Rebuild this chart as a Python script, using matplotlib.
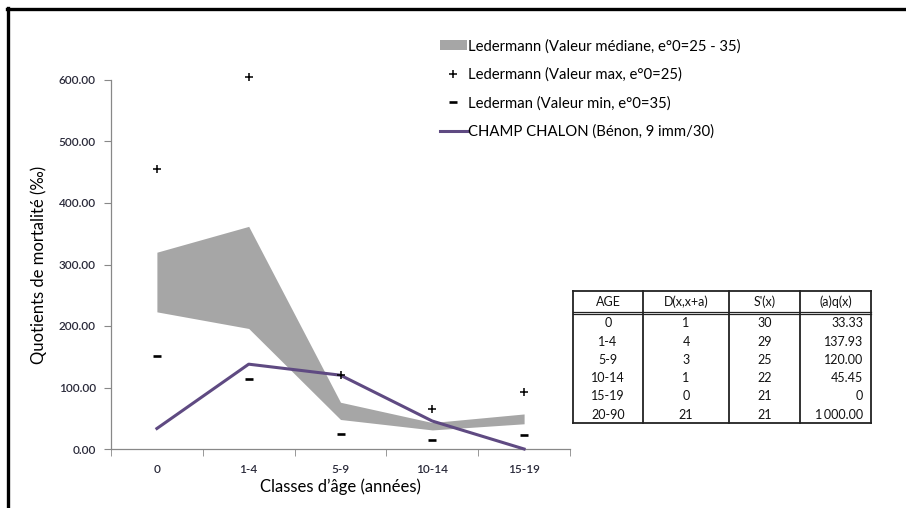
import matplotlib
matplotlib.use("Agg")
import matplotlib.pyplot as plt
from matplotlib.lines import Line2D
from matplotlib.patches import Patch
import numpy as np

plt.rcParams['font.family'] = ['Lato', 'DejaVu Sans']

# ---- data ----
categories = ["0", "1-4", "5-9", "10-14", "15-19"]
median_low = [223, 196, 48, 31, 41]
median_high = [320, 362, 76, 43, 57]
max_vals = [456, 605, 121, 65, 92]
min_vals = [152, 114, 25, 15, 23]
champ_chalon = [33.33, 137.93, 120.00, 45.45, 0]

table_header = ["AGE", "D(x,x+a)", "S'(x)", "(a)q(x)"]
table_age = ["0", "1-4", "5-9", "10-14", "15-19", "20-90"]
table_D = ["1", "4", "3", "1", "0", "21"]
table_S = ["30", "29", "25", "22", "21", "21"]
table_q = ["33.33", "137.93", "120.00", "45.45", "0", "1\u2009000.00"]

legend_labels = ["Ledermann (Valeur médiane, e°0=25 - 35)",
                 "Ledermann (Valeur max, e°0=25)",
                 "Lederman (Valeur min, e°0=35)",
                 "CHAMP CHALON (Bénon, 9 imm/30)"]

W, H = 906, 508
fig = plt.figure(figsize=(W / 100, H / 100), dpi=100)

def fx(px):
    return px / W

def fy(py):
    return 1 - py / H

ax = fig.add_axes([fx(111), fy(449), fx(570) - fx(111), fy(80) - fy(449)])
x = np.arange(len(categories))

band_color = "#A6A6A6"
line_color = "#5F4A82"
tick_color = "#2a2a3a"

ax.fill_between(x, median_low, median_high, color=band_color, linewidth=0, zorder=1)
ax.plot(x, champ_chalon, color=line_color, linewidth=2.2, zorder=3, clip_on=False)
ax.plot(x, max_vals, linestyle="none", marker="+", markersize=5.5, markeredgewidth=1.1,
        color="black", zorder=4, clip_on=False)
ax.plot(x, min_vals, linestyle="none", marker="_", markersize=6, markeredgewidth=1.9,
        color="black", zorder=4, clip_on=False)

ax.set_xlim(-0.5, len(categories) - 0.5)
ax.set_ylim(0, 600)
ax.set_yticks(np.arange(0, 601, 100))
ax.set_yticklabels([f"{v:.2f}" for v in np.arange(0, 601, 100)])
ax.set_xticks(x)
ax.set_xticklabels(categories)
ax.set_xticks(np.arange(-0.5, len(categories), 1.0), minor=True)
ax.tick_params(axis="x", which="major", length=0, pad=11, labelsize=8.5, labelcolor=tick_color)
ax.tick_params(axis="x", which="minor", length=5, color="#888888", direction="out")
ax.tick_params(axis="y", length=5, color="#888888", labelsize=8.5, labelcolor=tick_color, pad=6)
for lbl in ax.get_xticklabels() + ax.get_yticklabels():
    lbl.set_fontweight("semibold")
for s in ["top", "right"]:
    ax.spines[s].set_visible(False)
for s in ["left", "bottom"]:
    ax.spines[s].set_color("#888888")
    ax.spines[s].set_linewidth(0.9)

ax.set_xlabel("Classes d’âge (années)", fontsize=12, labelpad=2)
ax.set_ylabel("Quotients de mortalité (‰)", fontsize=12, labelpad=8)

# ---- legend ----
handles = [Patch(facecolor=band_color, edgecolor="none"),
           Line2D([], [], linestyle="none", marker="+", markersize=5.5, markeredgewidth=1.1, color="black"),
           Line2D([], [], linestyle="none", marker="_", markersize=6, markeredgewidth=1.9, color="black"),
           Line2D([], [], color=line_color, linewidth=2.2)]
fig.legend(handles, legend_labels, loc="upper left", bbox_to_anchor=(fx(440), fy(39)),
           frameon=False, fontsize=10.7, handlelength=1.8, handletextpad=0.1,
           labelspacing=0.95, borderaxespad=0, borderpad=0)

# ---- table ----
col_x = [573, 643, 729, 800, 871]
top, head_bot, bottom = 291, 313, 423
row_h = (bottom - head_bot) / len(table_age)
lc = "#222222"
for cx in col_x:
    fig.add_artist(Line2D([fx(cx), fx(cx)], [fy(top), fy(bottom)], color=lc, linewidth=1.3,
                          transform=fig.transFigure))
for yy, lw in [(top, 1.3), (head_bot - 1.2, 0.9), (head_bot + 1.0, 0.9), (bottom, 1.3)]:
    fig.add_artist(Line2D([fx(col_x[0]), fx(col_x[-1])], [fy(yy), fy(yy)], color=lc, linewidth=lw,
                          transform=fig.transFigure))
tfs = 9
for j, h in enumerate(table_header):
    fig.text(fx((col_x[j] + col_x[j + 1]) / 2), fy((top + head_bot) / 2), h,
             ha="center", va="center", fontsize=tfs, color="#111111")
cols = [table_age, table_D, table_S]
for i in range(len(table_age)):
    yc = fy(head_bot + 2 + row_h * (i + 0.5) - 1)
    for j, col in enumerate(cols):
        fig.text(fx((col_x[j] + col_x[j + 1]) / 2), yc, col[i], ha="center", va="center",
                 fontsize=tfs, color="#111111")
    fig.text(fx(col_x[4] - 8), yc, table_q[i], ha="right", va="center", fontsize=tfs, color="#111111")

# ---- outer frame ----
fig.add_artist(Line2D([fx(6.5), 1], [fy(9), fy(9)], color="black", linewidth=2.4,
                      transform=fig.transFigure))
fig.add_artist(Line2D([fx(8), fx(8)], [fy(7.5), 0], color="black", linewidth=2.4,
                      transform=fig.transFigure))

fig.savefig("out.png", dpi=100)
